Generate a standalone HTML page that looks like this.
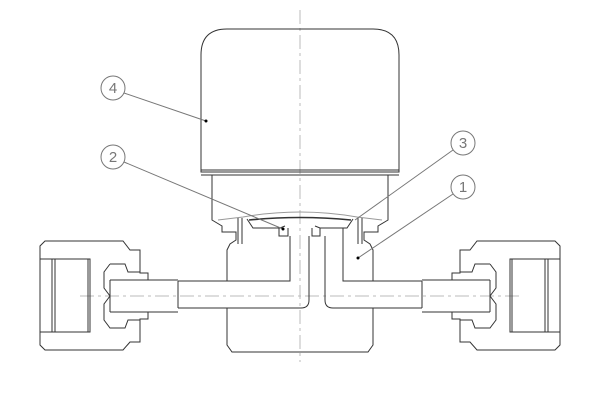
<!DOCTYPE html><html><head><style>body{margin:0;background:#fff}svg{display:block}</style></head><body>
<svg width="600" height="400" viewBox="0 0 600 400" xmlns="http://www.w3.org/2000/svg" font-family="Liberation Sans, sans-serif">
<g fill="none" stroke="#333" stroke-width="1">
<!-- center lines -->
<line x1="300" y1="10" x2="300" y2="362" stroke="#bbb" stroke-dasharray="14,4,3,4"/>
<line x1="80" y1="296" x2="520" y2="296" stroke="#bbb" stroke-dasharray="14,4,3,4"/>
<!-- cap -->
<path d="M201,172 L201,55 Q201,29 227,29 L373,29 Q399,29 399,55 L399,172 Z"/>
<path d="M201,170 L399,170 M201,175 L399,175"/>
<!-- housing -->
<path d="M212,175 L212,220 L222,226 L222,232 L236,232 L236,240 L230,244 L227,250 L227,281"/>
<path d="M388,175 L388,220 L378,226 L378,232 L364,232 L364,240 L370,244 L373,250 L373,281"/>
<path d="M218,220 L243,217 Q300,207 357,217 L382,220" stroke="#999"/>
<path d="M247,219 L253,228 L280,228 L285,226 M353,219 L347,228 L320,228 L315,226"/>
<path d="M249,220 Q300,215 351,220" stroke-width="1.6"/>
<path d="M279,228 L279,236 L288,236 L288,228 M312,228 L312,236 L320,236 L320,228"/>
<path d="M238,218 L238,244 M242,218 L242,244 M358,218 L358,244 M362,218 L362,244"/>
<!-- inner channels -->
<path d="M290,236 L290,281 L178,281 M309,236 L309,300 Q309,308 301,308 M325,236 L325,300 Q325,308 333,308 M343,228 L343,281 L422,281"/>
<path d="M178,308 L301,308 M333,308 L422,308"/>
<!-- lower body -->
<path d="M227,308 L227,345 L232,352 L368,352 L373,345 L373,308"/>
<path d="M178,281 L178,308 M422,281 L422,308"/>
<!-- fittings -->
<g id="f">
<path d="M148,280 L148,273 L140,273 L140,250 L130,250 L123,241 L45,241 L40,246 L40,345 L45,350 L123,350 L130,342 L140,342 L140,319 L148,319 L148,312"/>
<path d="M40,259 L90,259 L90,332 L40,332 M52,259 L52,332 M88,259 L88,332 M55,259 L55,332"/>
<path d="M110,264 L125,264 L128,272 L140,272 M110,264 L104,272 L104,288 L110,296 L104,304 L104,320 L110,328 L125,328 L128,320 L140,320"/>
<path d="M110,280 L178,280 M110,312 L178,312 M110,280 L110,312"/>
</g>
<g transform="translate(600,0) scale(-1,1)">
<path d="M148,280 L148,273 L140,273 L140,250 L130,250 L123,241 L45,241 L40,246 L40,345 L45,350 L123,350 L130,342 L140,342 L140,319 L148,319 L148,312"/>
<path d="M40,259 L90,259 L90,332 L40,332 M52,259 L52,332 M88,259 L88,332 M55,259 L55,332"/>
<path d="M110,264 L125,264 L128,272 L140,272 M110,264 L104,272 L104,288 L110,296 L104,304 L104,320 L110,328 L125,328 L128,320 L140,320"/>
<path d="M110,280 L178,280 M110,312 L178,312 M110,280 L110,312"/>
</g>
<!-- callouts -->
<g stroke="#777">
<circle cx="113" cy="88" r="12"/><circle cx="113" cy="157" r="12"/><circle cx="463" cy="143" r="12"/><circle cx="463" cy="187" r="12"/>
<line x1="124" y1="93" x2="206" y2="121"/>
<line x1="124" y1="162" x2="283" y2="229"/>
<line x1="453" y1="150" x2="355" y2="220"/>
<line x1="453" y1="194" x2="358" y2="258"/>
</g>
</g>
<g fill="#000"><circle cx="206" cy="121" r="1.5"/><circle cx="283" cy="229" r="1.5"/><circle cx="358" cy="258" r="1.5"/></g>
<g fill="#777" font-size="15" text-anchor="middle">
<text x="113" y="93">4</text><text x="113" y="162">2</text><text x="463" y="148">3</text><text x="463" y="192">1</text>
</g>
</svg>
</body></html>
